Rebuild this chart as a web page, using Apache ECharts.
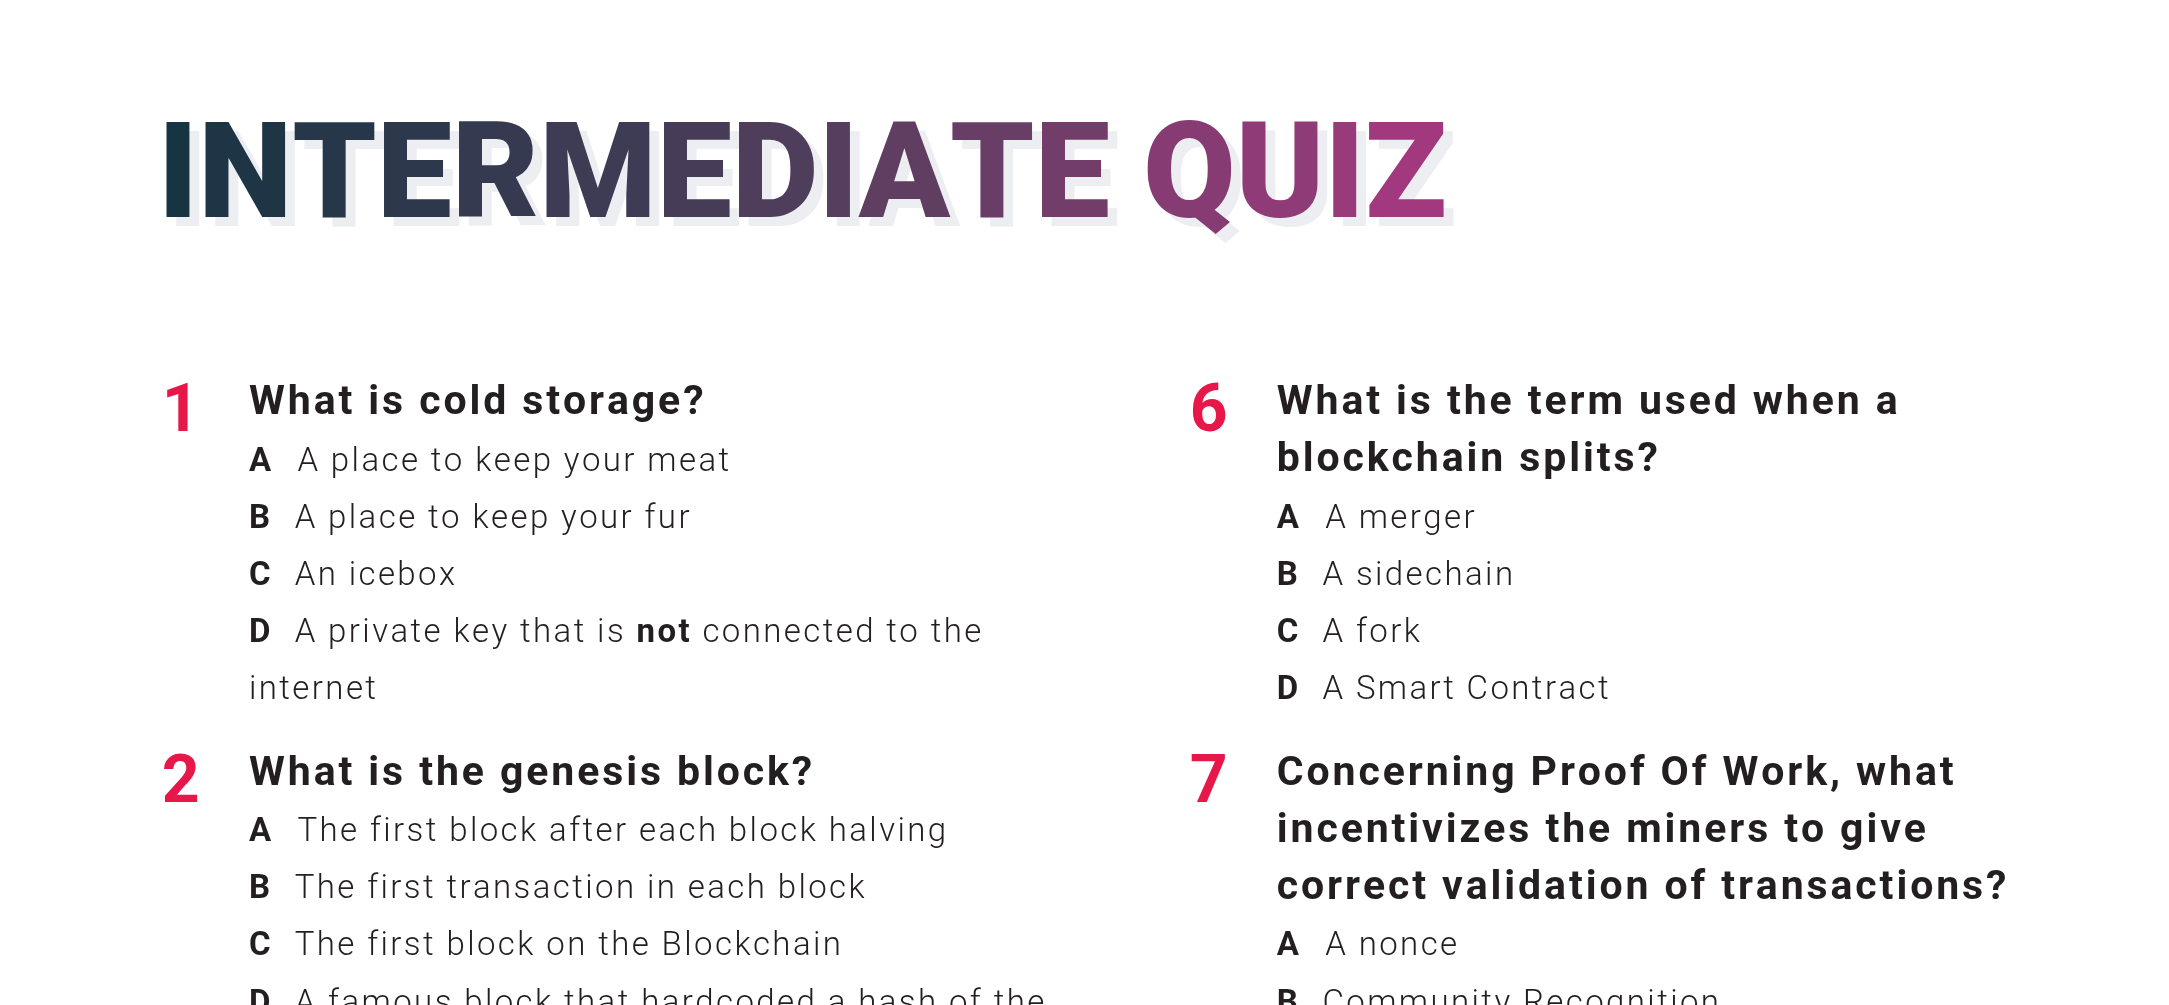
<!DOCTYPE html>
<html>
<head>
<meta charset="utf-8">
<script src="https://cdn.jsdelivr.net/npm/echarts@6/dist/echarts.min.js"></script>
<style>html,body{margin:0;padding:0;background:#fff}#main{width:2169px;height:1005px}</style>
</head>
<body>
<div id="main"></div>
<script>
// quiz content
var titleText = 'INTERMEDIATE QUIZ';
var leftNumbers = ['1', '2'];
var rightNumbers = ['6', '7'];
var leftQuestions = [
	['What is cold storage?'],
	['What is the genesis block?']
];
var rightQuestions = [
	['What is the term used when a', 'blockchain splits?'],
	['Concerning Proof Of Work, what', 'incentivizes the miners to give', 'correct validation of transactions?']
];
var leftOptions = [
	[['A', 'A place to keep your meat'], ['B', 'A place to keep your fur'], ['C', 'An icebox'], ['D', 'A private key that is |not| connected to the'], ['', 'internet']],
	[['A', 'The first block after each block halving'], ['B', 'The first transaction in each block'], ['C', 'The first block on the Blockchain'], ['D', 'A famous block that hardcoded a hash of the']]
];
var rightOptions = [
	[['A', 'A merger'], ['B', 'A sidechain'], ['C', 'A fork'], ['D', 'A Smart Contract']],
	[['A', 'A nonce'], ['B', 'Community Recognition']]
];

var S = 2169 / 1568;
var chart = echarts.init(document.getElementById('main'));
var els = [];
var ctx = document.createElement('canvas').getContext('2d');

// draws a string char by char so letter spacing can be added
function spaced(x, y, str, font, fill, spacing, extra) {
	ctx.font = font;
	for (var i = 0; i < str.length; i++) {
		var c = str[i];
		var f = typeof fill === 'function' ? fill(i, str.length) : fill;
		if (c !== ' ') {
			var st = {text: c, font: font, fill: f, verticalAlign: 'middle'};
			els.push({type: 'text', x: x, y: y, z: extra || 0, style: st});
		}
		x += ctx.measureText(c).width + spacing;
	}
	return x;
}

function mix(a, b, t) {
	var pa = [parseInt(a.substr(1, 2), 16), parseInt(a.substr(3, 2), 16), parseInt(a.substr(5, 2), 16)];
	var pb = [parseInt(b.substr(1, 2), 16), parseInt(b.substr(3, 2), 16), parseInt(b.substr(5, 2), 16)];
	return 'rgb(' + pa.map(function(v, k) { return Math.round(v + (pb[k] - v) * t); }).join(',') + ')';
}
function gradient(i, n) {
	var t = i / (n - 1);
	return t < 0.5 ? mix('#163442', '#563f5e', t * 2) : mix('#563f5e', '#a2397f', (t - 0.5) * 2);
}

// title with soft shadow
var titleFont = '900 134px Roboto';
spaced(121 * S, 139 * S, titleText, titleFont, '#eceef1', 0, 0);
spaced(114 * S, 133 * S, titleText, titleFont, gradient, 0, 1);

var qFont = '700 41px Roboto';
var oFont = '300 33px Roboto';
var oBold = '700 33px Roboto';

function column(numX, textX, numbers, questions, options) {
	var y = 291;
	var step = 41.3;
	for (var i = 0; i < numbers.length; i++) {
		els.push({type: 'text', x: numX * S, y: (y + 9) * S, style: {text: numbers[i], fill: '#e8174a', font: '700 66px Roboto', verticalAlign: 'middle'}});
		questions[i].forEach(function(q) {
			spaced(textX * S, (y + 1) * S, q, qFont, '#231f20', 2.9);
			y += step;
		});
		y += 2;
		options[i].forEach(function(o) {
			var x = textX * S;
			if (o[0]) {
				spaced(x, y * S, o[0], oBold, '#231f20', 0);
				x += (o[0] === 'A' ? 35 : 33) * S;
			}
			o[1].split('|').forEach(function(p, k) {
				x = spaced(x, y * S, p, k % 2 ? oBold : oFont, '#231f20', 2.4);
			});
			y += step;
		});
		y += 18;
	}
}
column(117, 180, leftNumbers, leftQuestions, leftOptions);
column(860, 923, rightNumbers, rightQuestions, rightOptions);

chart.setOption({backgroundColor: '#ffffff', graphic: {elements: els}});
</script>
</body>
</html>
